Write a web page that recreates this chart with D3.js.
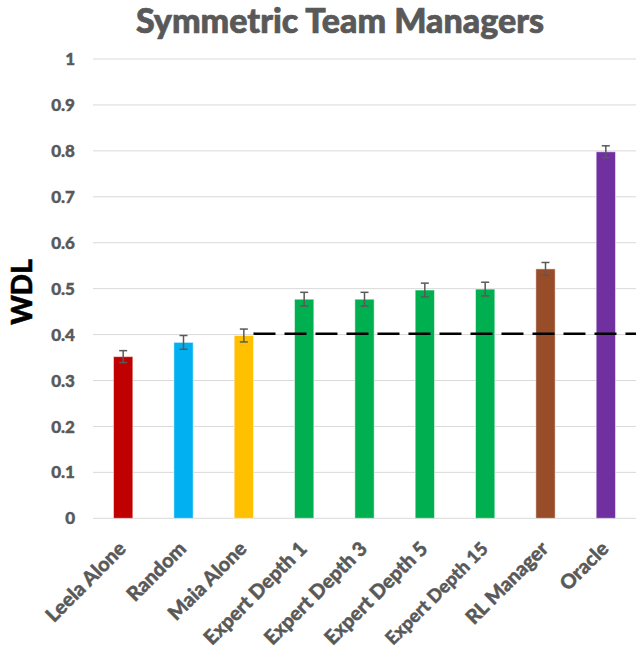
<!DOCTYPE html>
<html><head><meta charset="utf-8">
<script src="https://cdn.jsdelivr.net/npm/d3@7"></script>
<style>body{margin:0;background:#fff}</style>
</head><body>
<svg id="c" width="636" height="656"></svg>
<script>
const categories = ["Leela Alone","Random","Maia Alone","Expert Depth 1","Expert Depth 3","Expert Depth 5","Expert Depth 15","RL Manager","Oracle"];
const values = [0.352,0.383,0.398,0.477,0.477,0.497,0.499,0.543,0.798];
const errors = [0.013,0.015,0.014,0.015,0.015,0.015,0.015,0.014,0.013];
const colors = ["#C00000","#00B0F0","#FFC000","#00B050","#00B050","#00B050","#00B050","#984D28","#7030A0"];
const yTicks = [0,0.1,0.2,0.3,0.4,0.5,0.6,0.7,0.8,0.9,1];
const yTickLabels = ["0","0.1","0.2","0.3","0.4","0.5","0.6","0.7","0.8","0.9","1"];
const baselineValue = 0.402;
const baselineStartIndex = 2;

const font = "Lato, 'Open Sans', sans-serif";
const svg = d3.select("#c");
const m = {left:93, right:0};
const W = 636;
const x = d3.scaleBand().domain(categories).range([m.left, W - m.right]).paddingInner(0.68).paddingOuter(0.34);
const y = d3.scaleLinear().domain([0,1]).range([518.3, 59]);

// gridlines
svg.append("g").selectAll("line").data(yTicks).join("line")
  .attr("x1", m.left).attr("x2", W).attr("y1", d=>y(d)).attr("y2", d=>y(d))
  .attr("stroke", "#d9d9d9").attr("stroke-width", 1);

// y tick labels
svg.append("g").selectAll("text").data(yTicks).join("text")
  .attr("x", 75).attr("y", d=>y(d)).attr("dy","0.36em").attr("text-anchor","end")
  .attr("font-family", font).attr("font-weight",900).attr("font-size",17).attr("fill","#595959")
  .attr("stroke","#595959").attr("stroke-width",0.4)
  .text((d,i)=>yTickLabels[i]);

// bars
svg.append("g").selectAll("rect").data(values).join("rect")
  .attr("x", (d,i)=>x(categories[i])).attr("width", x.bandwidth())
  .attr("y", d=>y(d)).attr("height", d=>y(0)-y(d))
  .attr("fill", (d,i)=>colors[i]).attr("stroke","#ffffff").attr("stroke-opacity",0.5).attr("stroke-width",1);

// dashed baseline
svg.append("line")
  .attr("x1", x(categories[baselineStartIndex]) + x.bandwidth()).attr("x2", W)
  .attr("y1", y(baselineValue)).attr("y2", y(baselineValue))
  .attr("stroke","#000").attr("stroke-width",2.5).attr("stroke-dasharray","22,9");

// error bars
const eg = svg.append("g").attr("stroke","#595959").attr("stroke-width",1.5);
values.forEach((v,i)=>{
  const cx = x(categories[i]) + x.bandwidth()/2;
  const e = errors[i];
  eg.append("line").attr("x1",cx).attr("x2",cx).attr("y1",y(v+e)).attr("y2",y(v-e));
  eg.append("line").attr("x1",cx-4).attr("x2",cx+4).attr("y1",y(v+e)).attr("y2",y(v+e));
  eg.append("line").attr("x1",cx-4).attr("x2",cx+4).attr("y1",y(v-e)).attr("y2",y(v-e));
});

// x labels
const xl = svg.append("g").selectAll("text").data(categories).join("text")
  .attr("transform", d=>`translate(${x(d)+x.bandwidth()/2+4},${550}) rotate(-45)`)
  .attr("text-anchor","end")
  .attr("font-family", font).attr("font-weight",900).attr("font-size",20).attr("fill","#595959")
  .attr("stroke","#595959").attr("stroke-width",0.4)
  .text(d=>d);
// shrink labels that would run off the bottom edge
xl.each(function(){
  const L = this.getComputedTextLength();
  const maxL = 136;
  if (L > maxL) d3.select(this).attr("font-size", 20*maxL/L);
});

// title
svg.append("text").attr("x", 340).attr("y", 33).attr("text-anchor","middle")
  .attr("font-family", font).attr("font-weight",900).attr("font-size",34).attr("fill","#595959")
  .attr("stroke","#595959").attr("stroke-width",0.7)
  .text("Symmetric Team Managers");

// y label
svg.append("text").attr("transform","translate(22,292) rotate(-90)").attr("text-anchor","middle")
  .attr("dy","0.35em")
  .attr("font-family", font).attr("font-weight",900).attr("font-size",28).attr("fill","#000")
  .attr("stroke","#000").attr("stroke-width",0.5)
  .text("WDL");
</script>
</body></html>
